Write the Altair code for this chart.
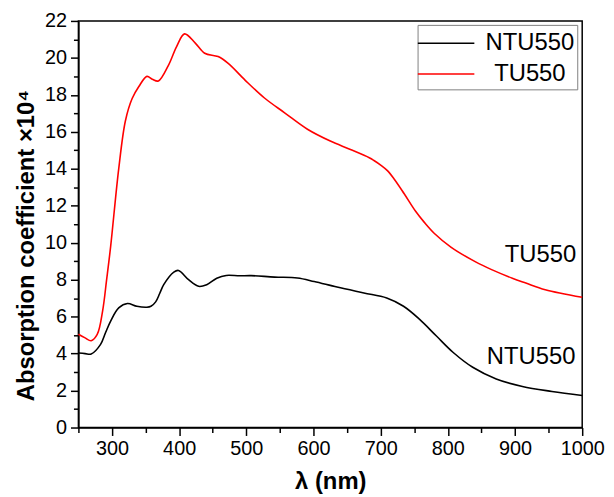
import altair as alt
import pandas as pd

# ---- data ----
ntu_nm = [250, 260, 269, 283, 290, 298, 310, 323, 337, 352, 358, 365, 371, 377, 392, 399, 414, 429, 441,
          456, 470, 490, 507, 542, 576, 601, 635, 675, 709, 734, 758, 783, 808, 837, 872, 911, 955, 1000]
ntu_val = [4.03, 4.0, 3.98, 4.5, 5.1, 5.76, 6.47, 6.71, 6.56, 6.51, 6.56, 6.8, 7.25, 7.73, 8.41, 8.5, 8.0, 7.64, 7.73,
           8.08, 8.23, 8.21, 8.22, 8.14, 8.09, 7.9, 7.6, 7.28, 7.01, 6.56, 5.85, 4.95, 4.06, 3.26, 2.63, 2.22, 1.95, 1.73]

tu_nm = [250, 260, 269, 278, 286, 292, 298, 310, 320, 330, 340, 352, 360, 369, 384, 396, 408, 424, 438,
         458, 473, 498, 527, 557, 591, 625, 654, 683, 690, 700, 710, 720, 735, 752, 765, 780, 805, 842, 866,
         896, 916, 945, 1000]
tu_val = [5.05, 4.85, 4.7, 5.04, 6.3, 8.0, 9.8, 14.0, 16.6, 17.8, 18.45, 19.0, 18.85, 18.75, 19.6, 20.6, 21.3,
          20.8, 20.25, 20.07, 19.7, 18.8, 17.83, 17.03, 16.14, 15.5, 15.06, 14.6, 14.45, 14.2, 13.9, 13.45, 12.65,
          11.7, 11.1, 10.5, 9.75, 8.95, 8.53, 8.08, 7.82, 7.46, 7.05]

series_names = ["NTU550", "TU550"]
series_colors = ["#000000", "#ff0000"]

label_text = ["NTU550", "TU550"]
label_nm = [990, 991]
label_val = [3.8, 9.35]

x_tick_values = list(range(250, 1001, 50))
y_tick_values = list(range(0, 23))

FONT = "Liberation Sans"

df = pd.concat([
    pd.DataFrame({"nm": ntu_nm, "val": ntu_val, "series": series_names[0]}),
    pd.DataFrame({"nm": tu_nm, "val": tu_val, "series": series_names[1]}),
], ignore_index=True)
labels_df = pd.DataFrame({"nm": label_nm, "val": label_val, "text": label_text})

x_scale = alt.Scale(domain=[250, 1000], nice=False, zero=False)
y_scale = alt.Scale(domain=[0, 22], nice=False, zero=False)

x_axis = alt.Axis(
    values=x_tick_values, tickCount=100, format="d",
    labelExpr="datum.value % 100 == 0 ? datum.label : ''",
    tickSize={"condition": {"test": "datum.value % 100 == 0", "value": 8}, "value": 5},
    title="λ (nm)",
    titleY=61, titleBaseline="alphabetic",
    labelFlush=False, labelOverlap=False, labelPadding=3,
)
y_axis = alt.Axis(
    values=y_tick_values, tickCount=100, format="d",
    labelExpr="datum.value % 2 == 0 ? datum.label : ''",
    tickSize={"condition": {"test": "datum.value % 2 == 0", "value": 8}, "value": 5},
    title="Absorption coefficient ×10⁴",
    titleAngle=-90, titleAlign="left", titleBaseline="alphabetic",
    titleX=-45, titleY=383,
    labelOverlap=False, labelPadding=4,
)

lines = alt.Chart(df).mark_line(strokeWidth=1.6, interpolate="catmull-rom").encode(
    x=alt.X("nm:Q", scale=x_scale, axis=x_axis),
    y=alt.Y("val:Q", scale=y_scale, axis=y_axis),
    color=alt.Color(
        "series:N",
        scale=alt.Scale(domain=series_names, range=series_colors),
        legend=alt.Legend(
            title=None, orient="none", legendX=342, legendY=4,
            symbolType="M-2,0H2", symbolSize=812, symbolStrokeWidth=1.6,
            symbolOffset=10.25, labelAlign="center", labelOffset=69,
            labelFont=FONT, labelFontSize=24, labelColor="black",
            strokeColor="#808080", padding=3, rowPadding=3, fillColor="white",
        ),
    ),
)

texts = alt.Chart(labels_df).mark_text(
    align="right", baseline="middle", font=FONT, fontSize=24, color="black"
).encode(
    x=alt.X("nm:Q", scale=x_scale),
    y=alt.Y("val:Q", scale=y_scale),
    text="text:N",
)

chart = alt.layer(lines, texts).properties(
    width=508, height=410,
    autosize=alt.AutoSizeParams(type="none"),
    padding={"left": 71, "top": 11, "right": 24, "bottom": 66},
    background="white",
).configure_view(
    stroke="black", strokeWidth=1.5,
).configure_axis(
    grid=False, domainColor="black", domainWidth=1.5,
    tickColor="black", tickWidth=1.5,
    labelFont=FONT, labelFontSize=20, labelColor="black",
    titleFont=FONT, titleFontSize=24, titleFontWeight="bold", titleColor="black",
)

chart.save("out.html", embed_options={"renderer": "svg", "actions": False})
